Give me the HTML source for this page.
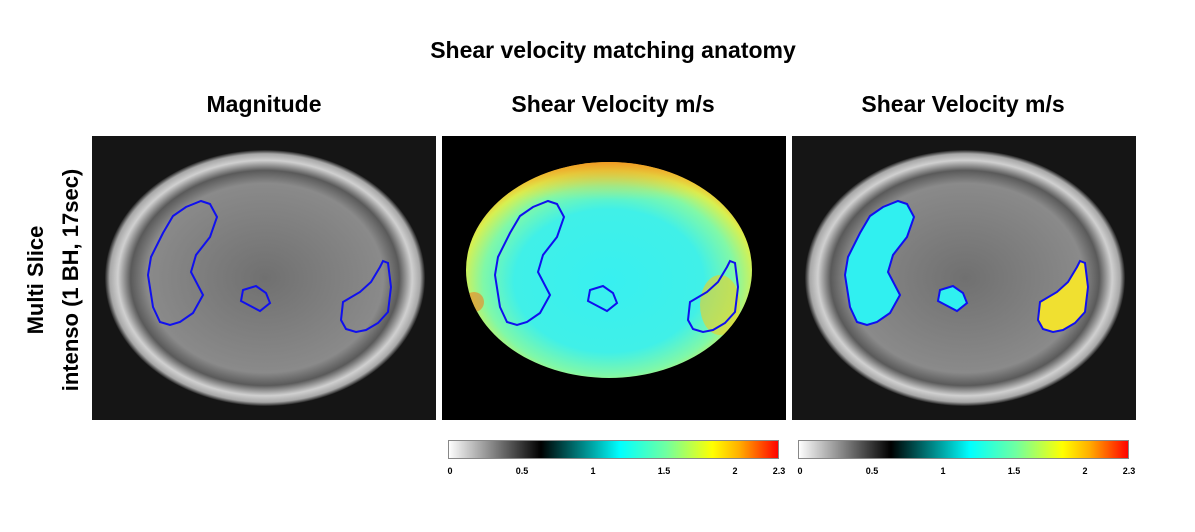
<!DOCTYPE html>
<html><head><meta charset="utf-8"><style>
html,body{margin:0;padding:0;background:#fff;}
svg{display:block;}
text{font-family:"Liberation Sans",sans-serif;font-weight:bold;}
</style></head><body>
<svg width="1195" height="532" viewBox="0 0 1195 532" xmlns="http://www.w3.org/2000/svg">
<defs>
<radialGradient id="gray" cx="0.5" cy="0.5" r="0.5">
<stop offset="0" stop-color="#707070"/><stop offset="0.74" stop-color="#8a8a8a"/>
<stop offset="0.84" stop-color="#5a5a5a"/><stop offset="0.92" stop-color="#d0d0d0"/>
<stop offset="0.97" stop-color="#a8a8a8"/><stop offset="1" stop-color="#202020"/>
</radialGradient>
<radialGradient id="vel" cx="0.5" cy="0.55" r="0.55">
<stop offset="0" stop-color="#38f0f0"/><stop offset="0.6" stop-color="#40f0e8"/>
<stop offset="0.8" stop-color="#80f8a8"/><stop offset="0.93" stop-color="#d8f050"/>
<stop offset="1" stop-color="#f0c030"/>
</radialGradient>
<linearGradient id="top" x1="0" y1="0" x2="0" y2="1">
<stop offset="0" stop-color="#f09020" stop-opacity="0.9"/><stop offset="1" stop-color="#f0e040" stop-opacity="0"/>
</linearGradient>
<clipPath id="body"><ellipse cx="609" cy="270" rx="143" ry="108"/></clipPath>
<linearGradient id="cb" x1="0" x2="1">
<stop offset="0" stop-color="#ffffff"/><stop offset="0.28" stop-color="#000000"/>
<stop offset="0.52" stop-color="#00ffff"/><stop offset="0.66" stop-color="#70ffa0"/>
<stop offset="0.8" stop-color="#ffff00"/><stop offset="0.88" stop-color="#ffb000"/>
<stop offset="1" stop-color="#ff0000"/>
</linearGradient>
<g id="cont" fill="none" stroke="#1010ee" stroke-width="2">
<polygon points="548,201 557,204 564,217 557,237 543,255 538,272 550,295 540,313 527,322 517,325 507,322 500,307 495,275 498,257 510,233 520,216 533,207"/>
<polygon points="590,290 603,286 613,293 617,303 607,311 588,301"/>
<polygon points="730,261 735,263 738,287 735,312 725,323 713,330 703,332 693,329 688,320 690,302 707,292 718,282 727,267"/>
</g>
</defs>
<text x="613" y="58" font-size="23" text-anchor="middle">Shear velocity matching anatomy</text>
<text x="264" y="112" font-size="23" text-anchor="middle">Magnitude</text>
<text x="613" y="112" font-size="23" text-anchor="middle">Shear Velocity m/s</text>
<text x="963" y="112" font-size="23" text-anchor="middle">Shear Velocity m/s</text>
<text transform="translate(43,280) rotate(-90)" font-size="22" text-anchor="middle">Multi Slice</text>
<text transform="translate(78,280) rotate(-90)" font-size="22" text-anchor="middle">intenso (1 BH, 17sec)</text>

<rect x="92" y="136" width="344" height="284" fill="#151515"/>
<ellipse cx="265" cy="278" rx="160" ry="128" fill="url(#gray)"/>
<use href="#cont" transform="translate(-347,0)"/>

<rect x="442" y="136" width="344" height="284" fill="#000"/>
<ellipse cx="609" cy="270" rx="143" ry="108" fill="url(#vel)"/>
<g clip-path="url(#body)">
<rect x="466" y="160" width="290" height="40" fill="url(#top)"/>
<ellipse cx="720" cy="305" rx="20" ry="30" fill="#f0d020" opacity="0.6"/>
<ellipse cx="474" cy="302" rx="10" ry="10" fill="#f08020" opacity="0.6"/>
</g>
<use href="#cont"/>

<rect x="792" y="136" width="344" height="284" fill="#151515"/>
<ellipse cx="965" cy="278" rx="160" ry="128" fill="url(#gray)"/>
<g transform="translate(350,0)">
<polygon points="548,201 557,204 564,217 557,237 543,255 538,272 550,295 540,313 527,322 517,325 507,322 500,307 495,275 498,257 510,233 520,216 533,207" fill="#30f0f0"/>
<polygon points="590,290 603,286 613,293 617,303 607,311 588,301" fill="#30f0f0"/>
<polygon points="730,261 735,263 738,287 735,312 725,323 713,330 703,332 693,329 688,320 690,302 707,292 718,282 727,267" fill="#f0e030"/>
<use href="#cont"/>
</g>

<g font-size="9">
<rect x="448.5" y="440.5" width="330" height="18" fill="url(#cb)" stroke="#888"/>
<text x="450" y="474" text-anchor="middle">0</text><text x="522" y="474" text-anchor="middle">0.5</text>
<text x="593" y="474" text-anchor="middle">1</text><text x="664" y="474" text-anchor="middle">1.5</text>
<text x="735" y="474" text-anchor="middle">2</text><text x="779" y="474" text-anchor="middle">2.3</text>
<rect x="798.5" y="440.5" width="330" height="18" fill="url(#cb)" stroke="#888"/>
<text x="800" y="474" text-anchor="middle">0</text><text x="872" y="474" text-anchor="middle">0.5</text>
<text x="943" y="474" text-anchor="middle">1</text><text x="1014" y="474" text-anchor="middle">1.5</text>
<text x="1085" y="474" text-anchor="middle">2</text><text x="1129" y="474" text-anchor="middle">2.3</text>
</g>
</svg>
</body></html>
